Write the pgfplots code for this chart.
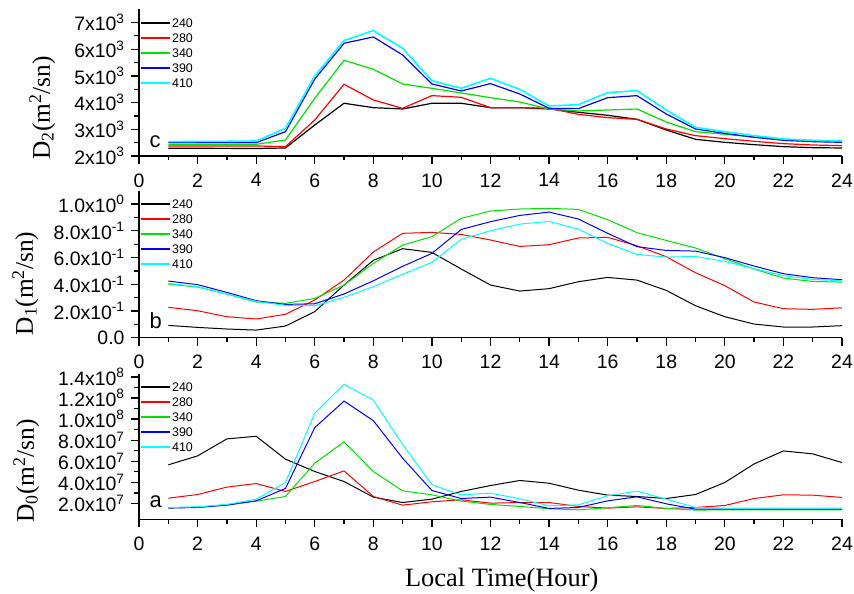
\documentclass[border=0pt]{standalone}
\usepackage{fontspec}
\setmainfont{Liberation Sans}
\newfontfamily\serif{Liberation Serif}
\usepackage{pgfplots}
\pgfplotsset{compat=1.18}
\definecolor{cgreen}{RGB}{0,225,0}
\definecolor{ccyan}{RGB}{0,255,255}
\definecolor{cblue}{RGB}{0,0,255}
\definecolor{cred}{RGB}{255,0,0}
\pgfplotsset{
 panel/.style={
   scale only axis, width=703bp,
   xmin=0, xmax=24, xtick={0,2,...,24}, minor x tick num=1,
   axis lines=left, axis line style={-, line width=1.4bp},
   tick align=outside, major tick length=8bp, minor tick length=4.5bp,
   every tick/.style={black, line width=1.3bp},
   minor y tick num=1,
   tick label style={font=\fontsize{19.5}{22}\selectfont},
   /pgf/number format/assume math mode=true,
   xticklabel style={yshift=-6bp},
   yticklabel style={xshift=-3bp},
   scaled y ticks=false,
   legend cell align=left,
   legend style={draw=none, fill=none, at={(rel axis cs:0,1)}, anchor=north west, yshift=-8bp, xshift=1bp,
      font=\fontsize{12.5}{14}\selectfont, inner sep=0pt, row sep=4bp,
      nodes={inner sep=1bp, text height=9bp, text depth=0bp}},
   legend image code/.code={\draw[mark repeat=2,mark phase=2,#1] plot coordinates {(0bp,0bp) (14bp,0bp) (29bp,0bp)};},
   legend image post style={line width=1.9bp},
   every axis plot/.append style={line width=1bp},
   ylabel style={font=\serif\fontsize{25.5}{28}\selectfont, anchor=base},
   xlabel style={font=\serif\fontsize{26.5}{28}\selectfont},
 }
}
\begin{document}
\begin{tikzpicture}
\useasboundingbox (0,0) rectangle (854bp,594bp);
% ---------- top: D2 ----------
\begin{axis}[panel, at={(139bp,438bp)}, anchor=south west, height=146.9bp,
  ymin=2000, ymax=7500, ytick={2000,3000,...,7000},
  yticklabels={2x10\textsuperscript{3},3x10\textsuperscript{3},4x10\textsuperscript{3},5x10\textsuperscript{3},6x10\textsuperscript{3},7x10\textsuperscript{3}},
  ylabel={D\textsubscript{2}(m\textsuperscript{2}/sn)},
  ylabel style={at={(axis description cs:0,0.327)}, yshift=89bp},
  every axis plot/.append style={line width=1.2bp}]
\addplot[color=black] coordinates {(1,2288)(2,2288)(3,2285)(4,2280)(5,2300)(6,3160)(7,3974)(8,3810)(9,3760)(10,3974)(11,3974)(12,3810)(13,3810)(14,3760)(15,3636)(16,3524)(17,3374)(18,2974)(19,2624)(20,2512)(21,2424)(22,2350)(23,2312)(24,2300)};
\addplot[color=cred] coordinates {(1,2375)(2,2375)(3,2375)(4,2375)(5,2350)(6,3348)(7,4685)(8,4097)(9,3785)(10,4260)(11,4198)(12,3810)(13,3810)(14,3785)(15,3561)(16,3436)(17,3374)(18,3011)(19,2762)(20,2650)(21,2550)(22,2462)(23,2412)(24,2387)};
\addplot[color=cgreen] coordinates {(1,2437)(2,2437)(3,2437)(4,2437)(5,2600)(6,4160)(7,5584)(8,5247)(9,4697)(10,4535)(11,4360)(12,4184)(13,4022)(14,3760)(15,3685)(16,3723)(17,3760)(18,3273)(19,2910)(20,2812)(21,2712)(22,2624)(23,2575)(24,2537)};
\addplot[color=cblue] coordinates {(1,2500)(2,2500)(3,2500)(4,2500)(5,2910)(6,4884)(7,6222)(8,6457)(9,5783)(10,4697)(11,4434)(12,4710)(13,4322)(14,3785)(15,3773)(16,4184)(17,4260)(18,3573)(19,3011)(20,2848)(21,2700)(22,2587)(23,2537)(24,2512)};
\addplot[color=ccyan, line width=1.6bp] coordinates {(1,2537)(2,2545)(3,2550)(4,2562)(5,3036)(6,4996)(7,6322)(8,6697)(9,6034)(10,4822)(11,4535)(12,4910)(13,4497)(14,3873)(15,3923)(16,4372)(17,4447)(18,3723)(19,3073)(20,2910)(21,2762)(22,2637)(23,2587)(24,2562)};
\legend{240,280,340,390,410}
\node[anchor=base west, font=\fontsize{22}{24}\selectfont] at (rel axis cs:0,0) [xshift=7bp, yshift=8bp] {c};
\end{axis}
% ---------- middle: D1 ----------
\begin{axis}[panel, at={(139bp,256.3bp)}, anchor=south west, height=147bp,
  ymin=0, ymax=1.1, ytick={0,0.2,...,1.0},
  yticklabels={0.0,2.0x10\textsuperscript{-1},4.0x10\textsuperscript{-1},6.0x10\textsuperscript{-1},8.0x10\textsuperscript{-1},1.0x10\textsuperscript{0}},
  ylabel={D\textsubscript{1}(m\textsuperscript{2}/sn)},
  ylabel style={at={(axis description cs:0,0.369)}, yshift=106bp}]
\addplot[color=black] coordinates {(1,0.092)(2,0.077)(3,0.065)(4,0.057)(5,0.087)(6,0.195)(7,0.394)(8,0.579)(9,0.666)(10,0.638)(11,0.514)(12,0.394)(13,0.349)(14,0.367)(15,0.419)(16,0.451)(17,0.431)(18,0.354)(19,0.239)(20,0.157)(21,0.102)(22,0.080)(23,0.080)(24,0.090)};
\addplot[color=cred] coordinates {(1,0.227)(2,0.202)(3,0.157)(4,0.140)(5,0.175)(6,0.282)(7,0.431)(8,0.641)(9,0.781)(10,0.788)(11,0.773)(12,0.731)(13,0.683)(14,0.696)(15,0.746)(16,0.751)(17,0.688)(18,0.606)(19,0.486)(20,0.389)(21,0.267)(22,0.217)(23,0.212)(24,0.224)};
\addplot[color=cgreen] coordinates {(1,0.401)(2,0.379)(3,0.327)(4,0.267)(5,0.257)(6,0.294)(7,0.394)(8,0.556)(9,0.693)(10,0.756)(11,0.893)(12,0.948)(13,0.963)(14,0.968)(15,0.960)(16,0.883)(17,0.786)(18,0.728)(19,0.671)(20,0.591)(21,0.514)(22,0.446)(23,0.421)(24,0.416)};
\addplot[color=cblue] coordinates {(1,0.424)(2,0.397)(3,0.339)(4,0.277)(5,0.249)(6,0.254)(7,0.327)(8,0.426)(9,0.534)(10,0.631)(11,0.810)(12,0.868)(13,0.915)(14,0.940)(15,0.888)(16,0.781)(17,0.681)(18,0.653)(19,0.648)(20,0.599)(21,0.536)(22,0.479)(23,0.449)(24,0.434)};
\addplot[color=ccyan] coordinates {(1,0.406)(2,0.382)(3,0.327)(4,0.272)(5,0.242)(6,0.239)(7,0.302)(8,0.382)(9,0.474)(10,0.564)(11,0.736)(12,0.800)(13,0.850)(14,0.870)(15,0.813)(16,0.706)(17,0.623)(18,0.603)(19,0.608)(20,0.571)(21,0.516)(22,0.464)(23,0.436)(24,0.426)};
\legend{240,280,340,390,410}
\node[anchor=base west, font=\fontsize{22}{24}\selectfont] at (rel axis cs:0,0) [xshift=7bp, yshift=9bp] {b};
\end{axis}
% ---------- bottom: D0 ----------
\begin{axis}[panel, at={(139bp,74.7bp)}, anchor=south west, height=145.6bp,
  ymin=5e6, ymax=1.43e8, ytick={2e7,4e7,6e7,8e7,1e8,1.2e8,1.4e8},
  yticklabels={2.0x10\textsuperscript{7},4.0x10\textsuperscript{7},6.0x10\textsuperscript{7},8.0x10\textsuperscript{7},1.0x10\textsuperscript{8},1.2x10\textsuperscript{8},1.4x10\textsuperscript{8}},
  ylabel={D\textsubscript{0}(m\textsuperscript{2}/sn)},
  ylabel style={at={(axis description cs:0,0.332)}, yshift=105bp},
  xlabel={Local Time(Hour)},
  xlabel style={at={(axis description cs:0.516,0)}, anchor=base, yshift=-67bp}]
\addplot[color=black] coordinates {(1,5.66e7)(2,6.51e7)(3,8.12e7)(4,8.37e7)(5,6.20e7)(6,5.03e7)(7,4.08e7)(8,2.60e7)(9,2.09e7)(10,2.41e7)(11,3.14e7)(12,3.70e7)(13,4.18e7)(14,3.92e7)(15,3.26e7)(16,2.79e7)(17,2.66e7)(18,2.47e7)(19,2.85e7)(20,3.99e7)(21,5.75e7)(22,6.98e7)(23,6.70e7)(24,5.88e7)};
\addplot[color=cred] coordinates {(1,2.50e7)(2,2.85e7)(3,3.55e7)(4,3.89e7)(5,3.14e7)(6,4.08e7)(7,5.09e7)(8,2.66e7)(9,1.84e7)(10,2.16e7)(11,2.35e7)(12,2.03e7)(13,2.09e7)(14,2.09e7)(15,1.72e7)(16,1.56e7)(17,1.68e7)(18,1.53e7)(19,1.62e7)(20,1.81e7)(21,2.47e7)(22,2.82e7)(23,2.79e7)(24,2.57e7)};
\addplot[color=cgreen] coordinates {(1,1.59e7)(2,1.65e7)(3,1.87e7)(4,2.22e7)(5,2.66e7)(6,5.82e7)(7,7.84e7)(8,5.03e7)(9,3.20e7)(10,2.82e7)(11,2.22e7)(12,1.91e7)(13,1.72e7)(14,1.50e7)(15,1.40e7)(16,1.59e7)(17,1.81e7)(18,1.53e7)(19,1.37e7)(20,1.40e7)(21,1.40e7)(22,1.40e7)(23,1.40e7)(24,1.40e7)};
\addplot[color=cblue] coordinates {(1,1.56e7)(2,1.62e7)(3,1.84e7)(4,2.25e7)(5,3.42e7)(6,9.19e7)(7,1.17e8)(8,9.85e7)(9,6.29e7)(10,3.23e7)(11,2.47e7)(12,2.60e7)(13,2.09e7)(14,1.53e7)(15,1.62e7)(16,2.25e7)(17,2.63e7)(18,1.97e7)(19,1.46e7)(20,1.46e7)(21,1.46e7)(22,1.46e7)(23,1.46e7)(24,1.46e7)};
\addplot[color=ccyan] coordinates {(1,1.62e7)(2,1.68e7)(3,1.91e7)(4,2.41e7)(5,3.99e7)(6,1.055e8)(7,1.329e8)(8,1.18e8)(9,7.6e7)(10,3.77e7)(11,2.82e7)(12,2.98e7)(13,2.44e7)(14,1.78e7)(15,1.87e7)(16,2.73e7)(17,3.17e7)(18,2.41e7)(19,1.62e7)(20,1.56e7)(21,1.56e7)(22,1.56e7)(23,1.56e7)(24,1.56e7)};
\legend{240,280,340,390,410}
\node[anchor=base west, font=\fontsize{22}{24}\selectfont] at (rel axis cs:0,0) [xshift=7bp, yshift=12bp] {a};
\end{axis}
\end{tikzpicture}
\end{document}
